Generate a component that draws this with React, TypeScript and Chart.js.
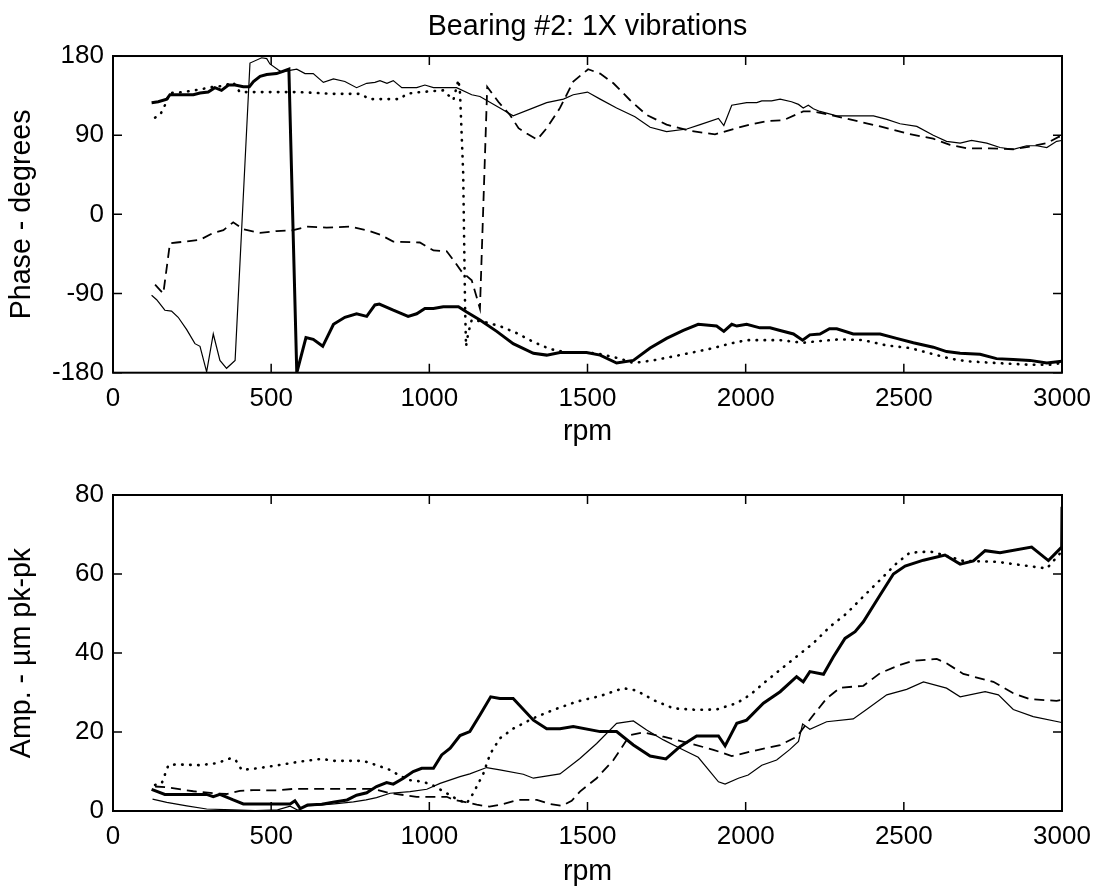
import React, { useEffect, useRef } from 'react';
import { Chart, registerables } from 'chart.js';

Chart.register(...registerables);

const FONT = '"Liberation Sans", Arial, Helvetica, sans-serif';
const FS_TICK = 26;
const FS_LABEL = 28.6;

const TITLE = 'Bearing #2: 1X vibrations';
const X_LABEL = 'rpm';
const PHASE_LABEL = 'Phase - degrees';
const AMP_LABEL = 'Amp. - µm pk-pk';

// ---------- Phase (top) ----------
const phaseThickRpm = [122, 143, 170, 180, 212, 254, 275, 301, 322, 343, 365, 386, 412, 431, 444, 465, 486, 517, 556, 581, 610, 633, 663, 697, 733, 770, 802, 828, 842, 886, 933, 960, 986, 1013, 1044, 1092, 1118, 1160, 1213, 1265, 1329, 1371, 1413, 1497, 1540, 1592, 1645, 1698, 1750, 1803, 1850, 1908, 1931, 1956, 1972, 2003, 2045, 2077, 2109, 2151, 2180, 2203, 2235, 2265, 2288, 2340, 2425, 2477, 2530, 2593, 2635, 2678, 2741, 2793, 2846, 2899, 2952, 2999];
const phaseThickDeg = [127, 128, 131, 136, 136, 136, 138, 139, 144, 141, 147, 147, 145, 145, 151, 157, 159, 160, 165, -180, -140, -142, -150, -125, -117, -113, -116, -103, -102, -109, -116, -113, -107, -107, -105, -105, -111, -120, -133, -147, -158, -160, -157, -157, -160, -169, -166, -152, -141, -132, -125, -127, -133, -125, -127, -125, -129, -129, -132, -136, -143, -137, -136, -130, -130, -136, -136, -141, -146, -151, -156, -158, -159, -164, -165, -166, -169, -167];

const phaseThinRpm = [122, 138, 164, 185, 206, 233, 259, 275, 296, 317, 338, 359, 386, 433, 470, 486, 496, 523, 533, 581, 607, 633, 665, 697, 733, 770, 802, 828, 844, 866, 886, 913, 960, 986, 1013, 1086, 1134, 1160, 1223, 1265, 1329, 1371, 1424, 1455, 1500, 1540, 1592, 1650, 1698, 1750, 1814, 1856, 1914, 1931, 1956, 2003, 2035, 2051, 2082, 2109, 2145, 2167, 2182, 2198, 2214, 2235, 2288, 2404, 2446, 2488, 2541, 2593, 2635, 2678, 2714, 2762, 2804, 2846, 2888, 2920, 2952, 2983, 2999];
const phaseThinDeg = [-92, -97, -109, -110, -117, -131, -147, -150, -179, -136, -166, -175, -166, 172, 178, 177, 171, 164, 162, 165, 160, 160, 150, 154, 151, 144, 149, 150, 152, 149, 152, 144, 144, 147, 144, 144, 136, 134, 121, 112, 121, 127, 131, 136, 139, 131, 121, 111, 99, 94, 97, 102, 109, 101, 124, 127, 127, 129, 129, 131, 128, 125, 121, 124, 120, 117, 112, 112, 108, 103, 100, 90, 83, 81, 84, 81, 76, 74, 78, 78, 76, 83, 84];

const phaseDotRpm = [133, 149, 164, 180, 222, 275, 317, 349, 380, 401, 590, 697, 781, 812, 907, 928, 970, 1044, 1076, 1092, 1097, 1107, 1113, 1116, 1123, 1134, 1171, 1223, 1276, 1329, 1381, 1434, 1476, 1529, 1603, 1645, 1708, 1792, 1898, 1950, 2003, 2109, 2180, 2235, 2298, 2372, 2446, 2520, 2583, 2646, 2699, 2793, 2899, 2962, 2999];
const phaseDotDeg = [110, 113, 124, 138, 139, 142, 145, 146, 150, 139, 139, 137, 137, 131, 131, 137, 139, 141, 130, 153, 138, 47, -105, -150, -135, -120, -122, -127, -135, -145, -153, -157, -157, -158, -164, -169, -166, -160, -152, -147, -143, -143, -146, -144, -142, -143, -149, -152, -158, -164, -167, -169, -171, -171, -169];

const phaseDashRpm = [133, 159, 180, 201, 275, 317, 349, 380, 412, 465, 517, 570, 612, 675, 749, 802, 844, 886, 970, 1013, 1055, 1076, 1102, 1134, 1160, 1183, 1218, 1255, 1282, 1308, 1341, 1371, 1413, 1455, 1502, 1540, 1582, 1634, 1687, 1750, 1824, 1903, 1961, 2014, 2066, 2119, 2182, 2214, 2267, 2340, 2425, 2509, 2593, 2646, 2699, 2772, 2846, 2899, 2952, 2989, 2999];
const phaseDashDeg = [-80, -90, -33, -32, -29, -21, -18, -9, -17, -21, -19, -18, -14, -15, -14, -18, -23, -31, -32, -41, -42, -52, -65, -75, -107, 145, 128, 113, 98, 92, 85, 98, 121, 151, 165, 160, 149, 130, 113, 102, 95, 91, 97, 102, 106, 107, 117, 117, 113, 107, 100, 92, 86, 79, 75, 75, 74, 77, 81, 88, 88];

// ---------- Amplitude (bottom) ----------
const ampThickRpm = [122, 164, 296, 317, 338, 380, 412, 560, 575, 592, 615, 660, 700, 740, 770, 802, 833, 865, 886, 918, 949, 976, 1013, 1039, 1066, 1097, 1128, 1160, 1194, 1223, 1265, 1329, 1371, 1413, 1455, 1540, 1592, 1645, 1698, 1748, 1792, 1845, 1914, 1935, 1972, 2003, 2056, 2109, 2161, 2182, 2203, 2246, 2277, 2314, 2346, 2372, 2425, 2467, 2504, 2562, 2630, 2678, 2720, 2757, 2804, 2904, 2957, 2999, 3000];
const ampThickVal = [5.5, 4.2, 4.2, 3.6, 4.2, 2.8, 1.8, 1.8, 2.6, 0.6, 1.5, 1.7, 2.3, 2.8, 4, 4.6, 6.2, 7.2, 6.8, 8.3, 10, 10.8, 10.8, 14.2, 15.9, 19.1, 20.1, 24.3, 28.9, 28.5, 28.5, 23, 20.8, 20.8, 21.4, 20.1, 20.1, 16.7, 13.9, 13.2, 16.3, 19, 19, 16.5, 22.2, 23, 27.3, 30.2, 34, 32.7, 35.3, 34.6, 39, 43.7, 45.4, 47.9, 54.7, 60, 62, 63.5, 64.8, 62.5, 63.3, 65.9, 65.4, 66.8, 63.4, 66.8, 77];

const ampThinRpm = [125, 170, 233, 296, 380, 450, 520, 560, 585, 610, 650, 700, 760, 800, 833, 876, 939, 992, 1034, 1097, 1128, 1181, 1223, 1297, 1329, 1413, 1476, 1529, 1592, 1645, 1687, 1740, 1792, 1850, 1914, 1935, 1977, 2008, 2051, 2098, 2140, 2167, 2180, 2203, 2256, 2340, 2382, 2446, 2509, 2562, 2635, 2678, 2757, 2799, 2846, 2909, 2999];
const ampThinVal = [3.0, 2.2, 1.3, 0.5, 0.3, 0.1, 0.3, 1.2, 0.2, 1.3, 1.5, 1.8, 2.3, 2.8, 3.4, 4.5, 4.9, 5.5, 7, 8.7, 9.4, 11, 10.4, 9.3, 8.3, 9.4, 13.3, 17.1, 22.2, 22.8, 20.5, 18, 15.9, 13.6, 7.4, 6.8, 8.3, 9.1, 11.6, 12.9, 15.6, 17.6, 22, 20.7, 22.6, 23.3, 25.7, 29.4, 30.8, 32.7, 31.1, 28.9, 30.2, 29.4, 25.7, 23.9, 22.4];

const ampDotRpm = [133, 154, 175, 201, 275, 328, 370, 386, 407, 454, 507, 591, 660, 697, 791, 833, 876, 907, 939, 981, 1013, 1055, 1086, 1118, 1139, 1171, 1192, 1223, 1266, 1329, 1392, 1466, 1540, 1613, 1655, 1708, 1771, 1845, 1908, 1972, 2014, 2056, 2108, 2161, 2214, 2267, 2319, 2372, 2425, 2477, 2519, 2583, 2635, 2688, 2793, 2867, 2952, 2999];
const ampDotVal = [6.6, 7, 11.6, 11.8, 11.6, 12.1, 13.3, 13.1, 10.4, 10.8, 11.4, 12.5, 13.2, 12.7, 12.7, 11.6, 10.4, 8.9, 7.8, 7.4, 6.4, 4.5, 3, 1.9, 4.5, 9.5, 14.4, 18.4, 20.9, 23.5, 25.6, 27.7, 29.1, 31.1, 30.5, 28.1, 26, 25.6, 25.7, 27.3, 29.4, 32.3, 35.7, 39.1, 42.5, 46.7, 50, 54.3, 58.5, 62.7, 65.4, 65.7, 64.6, 63.3, 63.1, 62.3, 61.4, 65.7];

const ampDashRpm = [133, 170, 254, 317, 359, 401, 443, 517, 570, 697, 823, 876, 960, 1055, 1076, 1110, 1150, 1190, 1230, 1280, 1340, 1380, 1420, 1450, 1476, 1529, 1582, 1634, 1676, 1740, 1824, 1898, 1956, 2024, 2109, 2161, 2214, 2256, 2298, 2372, 2425, 2488, 2530, 2604, 2635, 2688, 2783, 2846, 2899, 2983, 2999];
const ampDashVal = [6.2, 6, 5, 4.5, 4.3, 5.1, 5.3, 5.2, 5.6, 5.6, 5.6, 4.5, 3.6, 3.6, 2.9, 2.3, 1.6, 1.1, 1.7, 2.8, 2.8, 1.8, 1.3, 2.6, 4.9, 8.3, 12.9, 19.2, 19.9, 18.8, 17.1, 15.5, 13.9, 15.2, 16.7, 18.8, 24.3, 28.5, 31.2, 31.7, 34.9, 37, 38, 38.5, 37.4, 34.7, 32.7, 29.8, 28.3, 27.9, 28.1];

const X_MIN = 0, X_MAX = 3000, X_STEP = 500;
const PHASE_MIN = -180, PHASE_MAX = 180, PHASE_STEP = 90;
const AMP_MIN = 0, AMP_MAX = 80, AMP_STEP = 20;

const W = 1102;
const H1 = 460;
const H2 = 446;
const TOP2 = 446;
const TICK_LEN = 9;

function pts(xs: number[], ys: number[]) {
  return xs.map((x, i) => ({ x, y: ys[i] }));
}

type St = { borderWidth: number; borderDash: number[]; cap: 'butt' | 'round' };
const STYLE: Record<string, St> = {
  thick: { borderWidth: 3, borderDash: [], cap: 'butt' },
  thin: { borderWidth: 1.2, borderDash: [], cap: 'butt' },
  dot: { borderWidth: 2.6, borderDash: [0.5, 7.5], cap: 'round' },
  dash: { borderWidth: 1.8, borderDash: [10, 6], cap: 'butt' },
};

function ds(data: { x: number; y: number }[], st: St) {
  return {
    data,
    borderColor: '#000',
    backgroundColor: '#000',
    borderWidth: st.borderWidth,
    borderDash: st.borderDash,
    borderCapStyle: st.cap,
    pointRadius: 0,
    tension: 0,
    fill: false,
  };
}

const framePlugin = {
  id: 'frameTicks',
  afterDatasetsDraw(chart: any) {
    const { ctx, chartArea } = chart;
    const { left, right, top, bottom } = chartArea;
    const xs = chart.scales.x;
    const ys = chart.scales.y;
    ctx.save();
    ctx.strokeStyle = '#000';
    ctx.lineWidth = 1.5;
    ctx.setLineDash([]);
    ctx.beginPath();
    xs.ticks.forEach((t: any) => {
      const p = xs.getPixelForValue(t.value);
      ctx.moveTo(p, bottom);
      ctx.lineTo(p, bottom - TICK_LEN);
      ctx.moveTo(p, top);
      ctx.lineTo(p, top + TICK_LEN);
    });
    ys.ticks.forEach((t: any) => {
      const p = ys.getPixelForValue(t.value);
      ctx.moveTo(left, p);
      ctx.lineTo(left + TICK_LEN, p);
      ctx.moveTo(right, p);
      ctx.lineTo(right - TICK_LEN, p);
    });
    ctx.stroke();
    ctx.lineWidth = 2;
    ctx.strokeRect(left, top, right - left, bottom - top);
    ctx.restore();
  },
};

function makeOptions(cfg: {
  yMin: number; yMax: number; yStep: number; yLabel: string;
  xAxisHeight: number; xTitleBottomPad: number; padTop: number; title: boolean;
}) {
  const tickFont = { family: FONT, size: FS_TICK, weight: 'normal' as const };
  const labelFont = { family: FONT, size: FS_LABEL, weight: 'normal' as const };
  return {
    animation: false as const,
    responsive: false,
    maintainAspectRatio: false,
    events: [] as any[],
    layout: { padding: { left: 0, right: 40, top: cfg.padTop, bottom: 0 } },
    plugins: {
      legend: { display: false },
      tooltip: { enabled: false },
      title: {
        display: cfg.title,
        text: TITLE,
        fullSize: false,
        color: '#000',
        font: labelFont,
        padding: { top: 9.8, bottom: 11.9 },
      },
    },
    scales: {
      x: {
        type: 'linear' as const,
        min: X_MIN,
        max: X_MAX,
        grid: { display: false, drawTicks: false },
        border: { display: false },
        ticks: {
          stepSize: X_STEP,
          color: '#000',
          font: tickFont,
          padding: 10.5,
          maxRotation: 0,
          autoSkip: false,
          callback: (v: any) => String(v),
        },
        title: { display: true, text: X_LABEL, color: '#000', font: labelFont, padding: { top: 0, bottom: cfg.xTitleBottomPad } },
        afterFit: (s: any) => { s.height = cfg.xAxisHeight; },
      },
      y: {
        type: 'linear' as const,
        min: cfg.yMin,
        max: cfg.yMax,
        grid: { display: false, drawTicks: false },
        border: { display: false },
        ticks: {
          stepSize: cfg.yStep,
          color: '#000',
          font: tickFont,
          padding: 9,
          autoSkip: false,
          callback: (v: any) => String(v),
        },
        title: { display: true, text: cfg.yLabel, color: '#000', font: labelFont, padding: { top: 4.8, bottom: 0 } },
        afterFit: (s: any) => { s.width = 113; },
      },
    },
  };
}

export default function App() {
  const topRef = useRef<HTMLCanvasElement | null>(null);
  const botRef = useRef<HTMLCanvasElement | null>(null);

  useEffect(() => {
    const c1 = new Chart(topRef.current as HTMLCanvasElement, {
      type: 'line',
      data: {
        datasets: [
          ds(pts(phaseThinRpm, phaseThinDeg), STYLE.thin),
          ds(pts(phaseDashRpm, phaseDashDeg), STYLE.dash),
          ds(pts(phaseDotRpm, phaseDotDeg), STYLE.dot),
          ds(pts(phaseThickRpm, phaseThickDeg), STYLE.thick),
        ],
      },
      options: makeOptions({
        yMin: PHASE_MIN, yMax: PHASE_MAX, yStep: PHASE_STEP, yLabel: PHASE_LABEL,
        xAxisHeight: H1 - 372.7, xTitleBottomPad: 10.8, padTop: 0, title: true,
      }) as any,
      plugins: [framePlugin],
    });
    const c2 = new Chart(botRef.current as HTMLCanvasElement, {
      type: 'line',
      data: {
        datasets: [
          ds(pts(ampThinRpm, ampThinVal), STYLE.thin),
          ds(pts(ampDashRpm, ampDashVal), STYLE.dash),
          ds(pts(ampDotRpm, ampDotVal), STYLE.dot),
          ds(pts(ampThickRpm, ampThickVal), STYLE.thick),
        ],
      },
      options: makeOptions({
        yMin: AMP_MIN, yMax: AMP_MAX, yStep: AMP_STEP, yLabel: AMP_LABEL,
        xAxisHeight: 81, xTitleBottomPad: 2.8, padTop: 49, title: false,
      }) as any,
      plugins: [framePlugin],
    });
    return () => {
      c1.destroy();
      c2.destroy();
    };
  }, []);

  return (
    <div style={{ position: 'absolute', left: 0, top: 0, width: W, height: 892, background: '#fff' }}>
      <canvas ref={topRef} width={W} height={H1} style={{ display: 'block', position: 'absolute', left: 0, top: 0 }} />
      <canvas ref={botRef} width={W} height={H2} style={{ display: 'block', position: 'absolute', left: 0, top: TOP2 }} />
    </div>
  );
}
